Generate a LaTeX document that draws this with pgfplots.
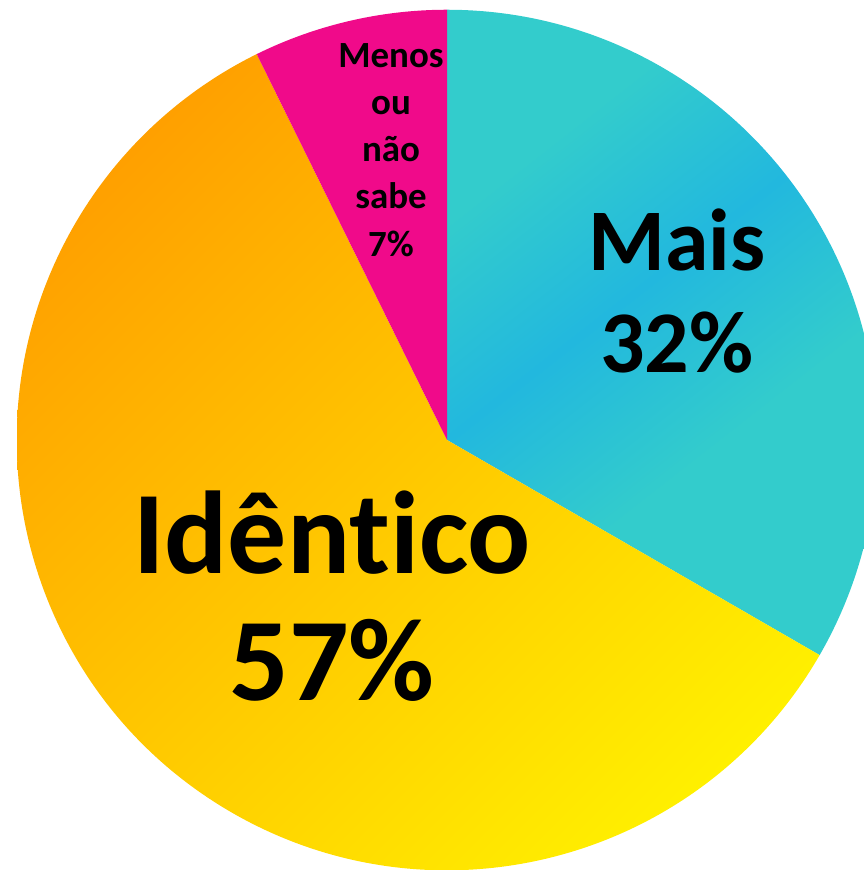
\documentclass[border=0pt]{standalone}
\usepackage{pgfplots}
\pgfplotsset{compat=1.18}
\usepackage{pgfplotstable}
\usepackage{fontspec}
\setmainfont{Carlito}[Ligatures={NoCommon}]
\definecolor{teal1}{RGB}{51,204,204}
\definecolor{blue1}{RGB}{34,184,222}
\definecolor{pink1}{RGB}{240,10,138}
\definecolor{orange1}{RGB}{255,160,0}
\definecolor{yellow1}{RGB}{255,240,0}
\pgfdeclarehorizontalshading{maisshade}{100bp}{color(0bp)=(teal1); color(40bp)=(teal1); color(50bp)=(blue1); color(60bp)=(teal1); color(100bp)=(teal1)}
\pgfdeclarehorizontalshading{identshade}{100bp}{color(0bp)=(orange1); color(25bp)=(orange1); color(75bp)=(yellow1); color(100bp)=(yellow1)}
\pgfplotstableread{
label value
Mais 32
Identico 57
Menos 7
}\piedata
\begin{document}
\begin{tikzpicture}
\pgfplotstablegetelem{0}{value}\of\piedata \let\vA\pgfplotsretval
\pgfplotstablegetelem{1}{value}\of\piedata \let\vB\pgfplotsretval
\pgfplotstablegetelem{2}{value}\of\piedata \let\vC\pgfplotsretval
\pgfmathsetmacro{\tot}{\vA+\vB+\vC}
\pgfmathsetmacro{\aA}{90-(\vA/\tot)*360}
\pgfmathsetmacro{\aB}{\aA-(\vB/\tot)*360}
\begin{axis}[x=0.01cm, y=0.01cm, xmin=-447, xmax=417, ymin=-430, ymax=440,
  hide axis, clip=true]
% Mais
\begin{scope}
\clip (axis cs:0,0) -- ++(90:4.3cm) arc[start angle=90, end angle=\aA, radius=4.3cm] -- cycle;
\shade[shading=maisshade, shading angle=-52] (axis cs:-430,-430) rectangle (axis cs:430,430);
\end{scope}
% Identico
\begin{scope}
\clip (axis cs:0,0) -- ++(\aA:4.3cm) arc[start angle=\aA, end angle=\aB, radius=4.3cm] -- cycle;
\shade[shading=identshade, shading angle=-45] (axis cs:-430,-430) rectangle (axis cs:430,430);
\end{scope}
% Menos
\fill[pink1] (axis cs:0,0) -- ++(\aB:4.3cm) arc[start angle=\aB, end angle=-270, radius=4.3cm] -- cycle;
\node[inner sep=0, align=center, font=\fontsize{25}{29}\selectfont\bfseries] at (axis cs:230,149) {Mais\\32\%};
\node[inner sep=0, align=center, font=\fontsize{33.5}{36}\selectfont\bfseries] at (axis cs:-115,-156) {Idêntico\\57\%};
\node[inner sep=0, align=center, font=\fontsize{10.5}{13.4}\selectfont\bfseries] at (axis cs:-56,290) {Menos\\ou\\não\\sabe\\7\%};
\end{axis}
\pgfresetboundingbox
\useasboundingbox (current axis.south west) rectangle (current axis.north east);
\end{tikzpicture}
\end{document}
